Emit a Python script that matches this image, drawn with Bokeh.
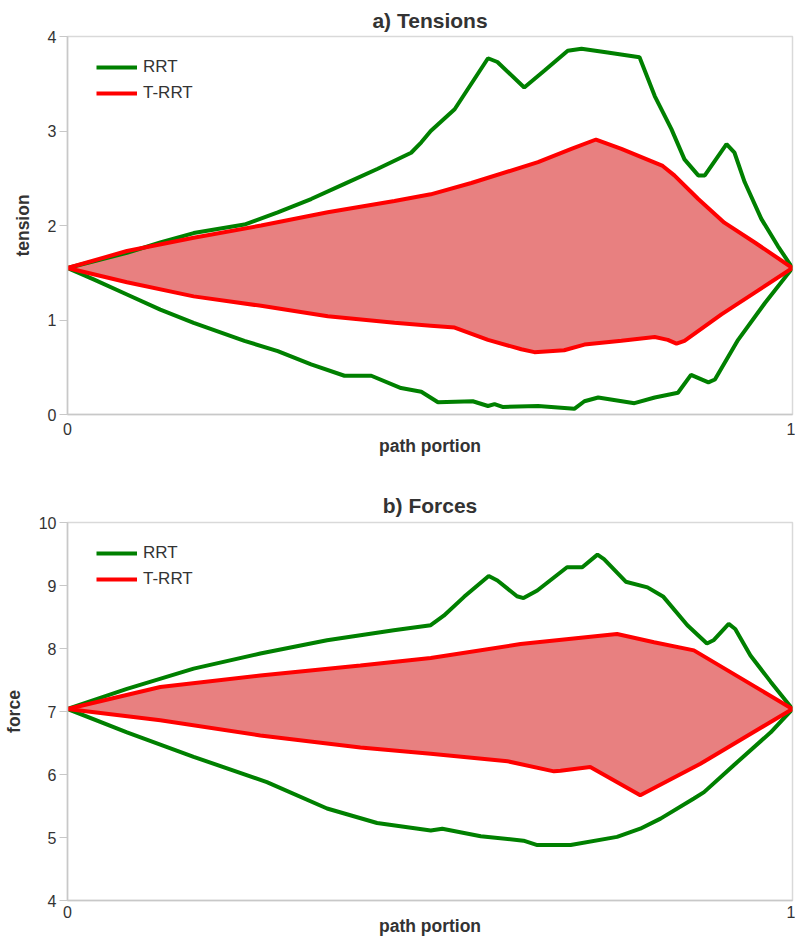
from bokeh.plotting import figure
from bokeh.layouts import column
from bokeh.models import Range1d, FixedTicker, Legend, LegendItem
from bokeh.embed import file_html
from bokeh.resources import INLINE

# ---- a) Tensions ----
t_rrt_up_x = [0.0, 0.082, 0.128, 0.174, 0.244, 0.290, 0.336, 0.382, 0.428, 0.474, 0.488, 0.501,
              0.534, 0.580, 0.593, 0.630, 0.658, 0.690, 0.709, 0.745, 0.789, 0.810, 0.833, 0.851,
              0.870, 0.879, 0.909, 0.920, 0.934, 0.957, 0.980, 1.0]
t_rrt_up_y = [1.55, 1.71, 1.82, 1.92, 2.01, 2.14, 2.28, 2.44, 2.60, 2.77, 2.88, 3.00,
              3.23, 3.77, 3.73, 3.46, 3.64, 3.85, 3.87, 3.83, 3.78, 3.37, 3.02, 2.70,
              2.53, 2.53, 2.86, 2.77, 2.46, 2.07, 1.78, 1.55]
t_rrt_lo_x = [0.0, 0.036, 0.082, 0.128, 0.174, 0.244, 0.290, 0.336, 0.382, 0.419, 0.460, 0.488,
              0.511, 0.559, 0.580, 0.589, 0.600, 0.649, 0.699, 0.713, 0.732, 0.782, 0.810, 0.842,
              0.860, 0.884, 0.893, 0.925, 0.962, 1.0]
t_rrt_lo_y = [1.55, 1.43, 1.27, 1.11, 0.97, 0.78, 0.67, 0.53, 0.41, 0.41, 0.28, 0.24,
              0.13, 0.14, 0.09, 0.11, 0.08, 0.09, 0.06, 0.14, 0.18, 0.12, 0.18, 0.23,
              0.42, 0.34, 0.37, 0.79, 1.18, 1.55]
t_trrt_up_x = [0.0, 0.082, 0.174, 0.267, 0.359, 0.451, 0.501, 0.557, 0.649, 0.695, 0.729, 0.764,
               0.821, 0.837, 0.870, 0.906, 0.948, 1.0]
t_trrt_up_y = [1.55, 1.73, 1.87, 2.00, 2.14, 2.26, 2.33, 2.45, 2.67, 2.81, 2.91, 2.81,
               2.63, 2.53, 2.28, 2.03, 1.82, 1.55]
t_trrt_lo_x = [0.0, 0.082, 0.174, 0.267, 0.359, 0.451, 0.501, 0.534, 0.580, 0.626, 0.644, 0.685,
               0.713, 0.764, 0.810, 0.828, 0.840, 0.851, 0.902, 0.948, 1.0]
t_trrt_lo_y = [1.55, 1.40, 1.25, 1.15, 1.04, 0.97, 0.94, 0.92, 0.79, 0.69, 0.66, 0.68,
               0.74, 0.78, 0.82, 0.79, 0.75, 0.78, 1.06, 1.29, 1.55]

# ---- b) Forces ----
f_rrt_up_x = [0.0, 0.082, 0.174, 0.266, 0.358, 0.450, 0.501, 0.519, 0.547, 0.581, 0.593, 0.620,
              0.629, 0.648, 0.689, 0.710, 0.731, 0.740, 0.770, 0.800, 0.822, 0.855, 0.882, 0.891,
              0.912, 0.921, 0.942, 0.970, 1.0]
f_rrt_up_y = [7.04, 7.36, 7.68, 7.92, 8.13, 8.29, 8.37, 8.52, 8.82, 9.15, 9.08, 8.83,
              8.80, 8.92, 9.29, 9.29, 9.49, 9.42, 9.06, 8.97, 8.82, 8.37, 8.08, 8.13,
              8.39, 8.31, 7.89, 7.47, 7.04]
f_rrt_lo_x = [0.0, 0.082, 0.174, 0.275, 0.358, 0.427, 0.501, 0.517, 0.570, 0.629, 0.648, 0.694,
              0.758, 0.790, 0.818, 0.864, 0.878, 0.924, 0.970, 1.0]
f_rrt_lo_y = [7.04, 6.67, 6.28, 5.88, 5.46, 5.23, 5.11, 5.14, 5.02, 4.95, 4.88, 4.88,
              5.01, 5.14, 5.30, 5.62, 5.72, 6.20, 6.67, 7.04]
f_trrt_up_x = [0.0, 0.128, 0.266, 0.404, 0.501, 0.625, 0.758, 0.809, 0.864, 1.0]
f_trrt_up_y = [7.04, 7.39, 7.57, 7.73, 7.85, 8.07, 8.23, 8.10, 7.97, 7.04]
f_trrt_lo_x = [0.0, 0.128, 0.266, 0.404, 0.501, 0.607, 0.671, 0.680, 0.721, 0.790, 0.873, 1.0]
f_trrt_lo_y = [7.04, 6.86, 6.62, 6.43, 6.33, 6.21, 6.05, 6.06, 6.12, 5.67, 6.17, 7.04]

x_ticks = [0, 1]
tension_ticks = [0, 1, 2, 3, 4]
force_ticks = [4, 5, 6, 7, 8, 9, 10]

GREEN = "#008000"
RED = "#ff0000"
FILL = "#e88080"
TXT = "#333333"
FONT = "Liberation Sans"
FRAME_H = 378


def make_plot(title, ylabel, yr, yticks, rrt_up, rrt_lo, trrt_up, trrt_lo,
              height, top, bottom, tick_standoff, label_standoff, title_standoff):
    p = figure(width=795, height=height, output_backend="svg", toolbar_location=None,
               x_range=Range1d(0, 1), y_range=Range1d(*yr),
               min_border_left=66, min_border_right=3,
               min_border_top=top, min_border_bottom=bottom)
    p.title.text = title
    p.title.align = "center"
    p.title.text_font = FONT
    p.title.text_font_size = "21px"
    p.title.text_font_style = "bold"
    p.title.text_color = TXT
    p.title.standoff = title_standoff
    p.xgrid.visible = False
    p.ygrid.visible = False
    p.outline_line_color = "#d9d9d9"
    p.outline_line_width = 1.5

    # fill between T-RRT bounds
    px = list(trrt_up[0]) + list(trrt_lo[0])[::-1]
    py = list(trrt_up[1]) + list(trrt_lo[1])[::-1]
    p.patch(px, py, fill_color=FILL, line_color=None)

    r1 = p.line(rrt_up[0], rrt_up[1], line_color=GREEN, line_width=4)
    p.line(rrt_lo[0], rrt_lo[1], line_color=GREEN, line_width=4)
    r2 = p.line(trrt_up[0], trrt_up[1], line_color=RED, line_width=4)
    p.line(trrt_lo[0], trrt_lo[1], line_color=RED, line_width=4)

    xa = p.xaxis[0]
    xa.ticker = FixedTicker(ticks=x_ticks)
    xa.axis_label = "path portion"
    xa.axis_label_text_font = FONT
    xa.axis_label_text_font_size = "17.5px"
    xa.axis_label_text_font_style = "bold"
    xa.axis_label_text_color = TXT
    xa.axis_label_standoff = label_standoff
    xa.major_label_text_font = FONT
    xa.major_label_text_font_size = "16px"
    xa.major_label_text_color = TXT
    xa.major_label_standoff = tick_standoff
    xa.major_tick_out = 0
    xa.major_tick_in = 0
    xa.minor_tick_out = 0
    xa.minor_tick_in = 0
    xa.axis_line_color = "#c8c8c8"
    xa.axis_line_width = 1.5

    ya = p.yaxis[0]
    ya.ticker = FixedTicker(ticks=yticks)
    ya.axis_label = ylabel
    ya.axis_label_text_font = FONT
    ya.axis_label_text_font_size = "17.5px"
    ya.axis_label_text_font_style = "bold"
    ya.axis_label_text_color = TXT
    ya.axis_label_standoff = 12
    ya.major_label_text_font = FONT
    ya.major_label_text_font_size = "16px"
    ya.major_label_text_color = TXT
    ya.major_label_standoff = 3
    ya.major_tick_out = 8
    ya.major_tick_in = 0
    ya.minor_tick_out = 0
    ya.minor_tick_in = 0
    ya.major_tick_line_color = "#c8c8c8"
    ya.axis_line_color = "#c8c8c8"
    ya.axis_line_width = 1.5

    legend = Legend(items=[LegendItem(label="RRT", renderers=[r1]),
                           LegendItem(label="T-RRT", renderers=[r2])],
                    location=(29, FRAME_H - 67), margin=0, padding=10, spacing=6,
                    glyph_width=41, glyph_height=20, label_height=20,
                    label_standoff=6,
                    label_text_font=FONT, label_text_font_size="17px",
                    label_text_color=TXT,
                    border_line_color=None, background_fill_alpha=0)
    p.add_layout(legend)
    return p


p1 = make_plot("a) Tensions", "tension", (0, 4), tension_ticks,
               (t_rrt_up_x, t_rrt_up_y), (t_rrt_lo_x, t_rrt_lo_y),
               (t_trrt_up_x, t_trrt_up_y), (t_trrt_lo_x, t_trrt_lo_y),
               height=469, top=36, bottom=55, tick_standoff=8, label_standoff=-2,
               title_standoff=9)
p2 = make_plot("b) Forces", "force", (4, 10), force_ticks,
               (f_rrt_up_x, f_rrt_up_y), (f_rrt_lo_x, f_rrt_lo_y),
               (f_trrt_up_x, f_trrt_up_y), (f_trrt_lo_x, f_trrt_lo_y),
               height=471, top=53, bottom=40, tick_standoff=5, label_standoff=-5,
               title_standoff=11)

layout = column(p1, p2, spacing=0)
open("out.html", "w").write(file_html(layout, INLINE))
